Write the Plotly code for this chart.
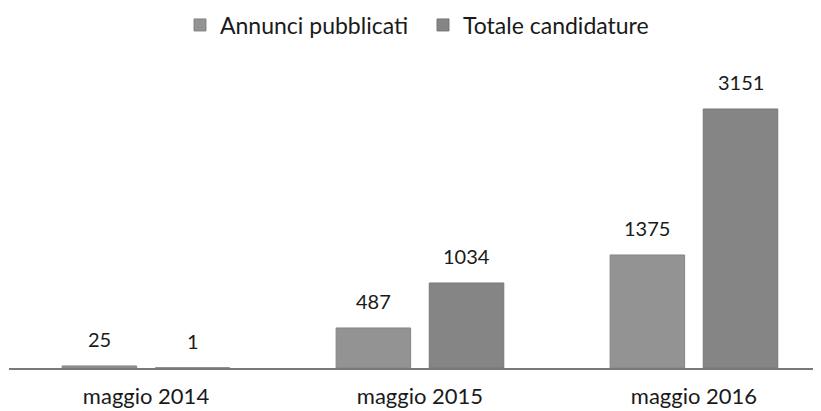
import plotly.graph_objects as go

categories = ["maggio 2014", "maggio 2015", "maggio 2016"]
annunci = [25, 487, 1375]
candidature = [1, 1034, 3151]
series_names = ["Annunci pubblicati", "Totale candidature"]

FONT = "Lato, 'Open Sans', sans-serif"
W, H = 821, 411

fig = go.Figure()
fig.add_trace(go.Bar(x=categories, y=annunci, name=series_names[0],
                     marker=dict(color="#939393", line=dict(width=1, color="#858585"))))
fig.add_trace(go.Bar(x=categories, y=candidature, name=series_names[1],
                     marker=dict(color="#858585", line=dict(width=1, color="#777777"))))

# value labels above bars
offsets = [-0.17, 0.17]
for vals, off in zip([annunci, candidature], offsets):
    for i, v in enumerate(vals):
        fig.add_annotation(x=i + off, y=v, text=str(v), showarrow=False,
                           yanchor="bottom", yshift=13,
                           font=dict(family=FONT, size=20, color="#1a1a1a"))

# page body adds an 8px offset, so margins compensate
fig.update_layout(
    width=W, height=H,
    margin=dict(l=1, r=0, t=52, b=51),
    paper_bgcolor="white", plot_bgcolor="white",
    barmode="group", bargap=0.32, bargroupgap=0.2,
    font=dict(family=FONT, size=20, color="#1a1a1a"),
    showlegend=True,
    legend=dict(orientation="h", xref="container", x=172 / W, xanchor="left",
                yref="container", y=1 - 17 / H, yanchor="middle",
                font=dict(size=23, color="#1a1a1a"), itemwidth=30,
                entrywidth=198, entrywidthmode="pixels",
                traceorder="normal"),
    xaxis=dict(type="category", range=[-0.5, 2.493], showgrid=False,
               showline=True, linecolor="#7a7a7a", linewidth=2,
               ticks="", ticklabelstandoff=8,
               tickfont=dict(family=FONT, size=22, color="#1a1a1a")),
    yaxis=dict(range=[0, 3747], showgrid=False, showticklabels=False,
               zeroline=False, showline=False),
)

fig.write_html("out.html")
